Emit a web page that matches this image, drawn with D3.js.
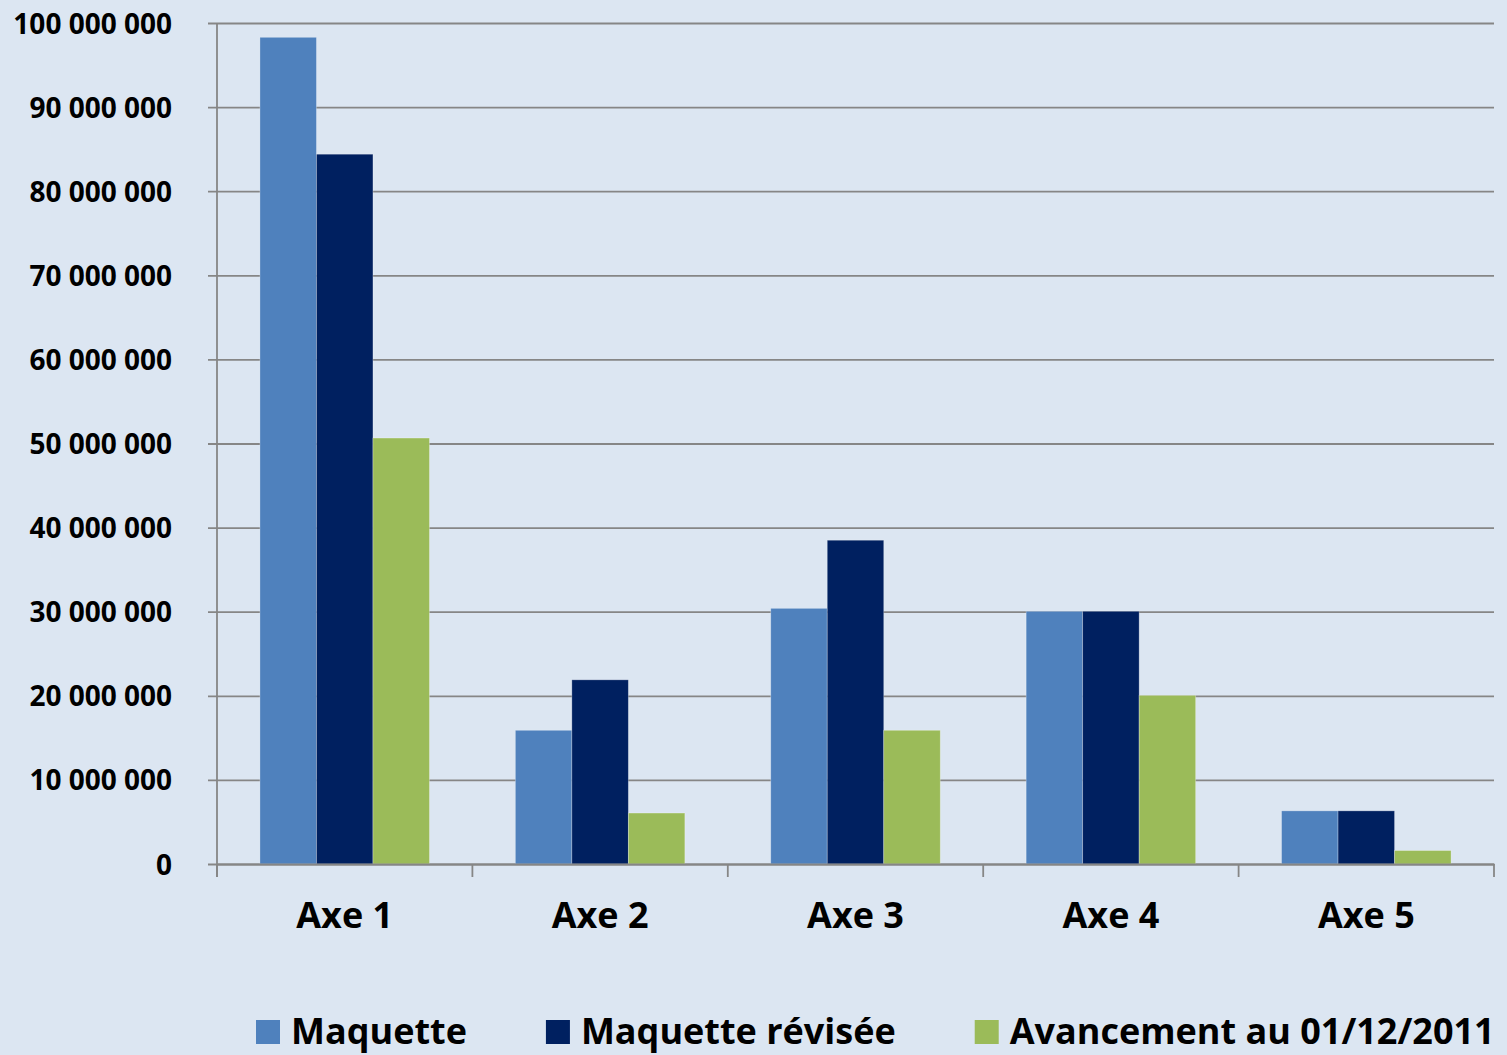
<!DOCTYPE html>
<html>
<head>
<meta charset="utf-8">
<script src="https://cdn.jsdelivr.net/npm/d3@7"></script>
<style>
  body { margin: 0; background: #DCE6F2; }
  svg { display: block; font-family: "Open Sans", Lato, sans-serif; font-weight: bold; }
</style>
</head>
<body>
<div id="chart"></div>
<script>
var categories = ["Axe 1", "Axe 2", "Axe 3", "Axe 4", "Axe 5"];
var seriesNames = ["Maquette", "Maquette révisée", "Avancement au 01/12/2011"];
var maquette = [98300000, 15900000, 30400000, 30050000, 6320000];
var maquetteRevisee = [84400000, 21900000, 38500000, 30050000, 6320000];
var avancement = [50650000, 6060000, 15900000, 20050000, 1600000];
var yTicks = [0, 10000000, 20000000, 30000000, 40000000, 50000000, 60000000, 70000000, 80000000, 90000000, 100000000];
var colors = ["#4F81BD", "#002060", "#9BBB59"];

var series = [maquette, maquetteRevisee, avancement];
var data = categories.map(function(c, i) {
  return { cat: c, values: series.map(function(s, j) { return { key: j, v: s[i] }; }) };
});

var W = 1507, H = 1055;
var margin = { top: 23, right: 13, bottom: 191, left: 217 };
var width = W - margin.left - margin.right,
    height = H - margin.top - margin.bottom;
var axisCol = "#868686";
var font = "'Open Sans', Lato, sans-serif";

var svg = d3.select("#chart").append("svg")
  .attr("width", W).attr("height", H);
svg.append("rect").attr("width", W).attr("height", H).attr("fill", "#DCE6F2");

var g = svg.append("g").attr("transform", "translate(" + margin.left + "," + margin.top + ")");

var x0 = d3.scaleBand().domain(categories).range([0, width]).padding(0);
var x1 = d3.scaleBand().domain([0, 1, 2]).range([0, x0.bandwidth()]).paddingOuter(0.76).paddingInner(0);
var y = d3.scaleLinear().domain([0, 100000000]).range([height, 0]);

var fmt = function(d) { return d3.format(",")(d).replace(/,/g, " "); };

// gridlines + y axis
var yAxis = d3.axisLeft(y).tickValues(yTicks).tickSize(0).tickFormat(fmt);
var ya = g.append("g").call(yAxis);
ya.select(".domain").remove();
ya.selectAll(".tick line").attr("x1", -9).attr("x2", width).attr("stroke", axisCol).attr("stroke-width", 1.8);
ya.selectAll(".tick text").attr("x", -45).attr("dy", "0.36em").attr("fill", "#000")
  .style("font-size", "28px").style("font-family", font).style("font-weight", "bold");

// bars
var groups = g.selectAll("g.grp").data(data).enter().append("g")
  .attr("class", "grp")
  .attr("transform", function(d) { return "translate(" + x0(d.cat) + ",0)"; });

groups.selectAll("rect").data(function(d) { return d.values; }).enter().append("rect")
  .attr("x", function(d) { return x1(d.key); })
  .attr("y", function(d) { return y(d.v); })
  .attr("width", x1.bandwidth())
  .attr("height", function(d) { return height - y(d.v); })
  .attr("fill", function(d) { return colors[d.key]; })
  .attr("stroke", "rgba(255,255,255,0.35)")
  .attr("stroke-width", 0.8);

// y axis line
g.append("line").attr("x1", 0).attr("x2", 0).attr("y1", 0).attr("y2", height + 13)
  .attr("stroke", axisCol).attr("stroke-width", 1.8);

// x axis
var xAxis = d3.axisBottom(x0).tickSize(0).tickPadding(38);
var xa = g.append("g").attr("transform", "translate(0," + height + ")").call(xAxis);
xa.select(".domain").attr("stroke", axisCol).attr("stroke-width", 1.8);
xa.selectAll(".tick text").attr("fill", "#000").style("font-size", "36px")
  .style("font-family", font).style("font-weight", "bold")
  .attr("dy", "0.71em");
var bounds = categories.map(function(c) { return x0(c); }).concat([width]);
g.selectAll("line.xtick").data(bounds).enter().append("line")
  .attr("class", "xtick")
  .attr("x1", function(d) { return d; }).attr("x2", function(d) { return d; })
  .attr("y1", height).attr("y2", height + 13)
  .attr("stroke", axisCol).attr("stroke-width", 1.8);

// legend (nudged up a little so descenders are not clipped)
var legend = svg.append("g").attr("transform", "translate(256,1044)");
var lx = 0;
seriesNames.forEach(function(name, i) {
  var it = legend.append("g").attr("transform", "translate(" + lx + ",0)");
  it.append("rect").attr("x", 0).attr("y", -24).attr("width", 24).attr("height", 24).attr("fill", colors[i]);
  var t = it.append("text").attr("x", 35).attr("y", 0).text(name)
    .style("font-size", "36px").attr("fill", "#000");
  lx += 35 + t.node().getComputedTextLength() + 79;
});
</script>
</body>
</html>
